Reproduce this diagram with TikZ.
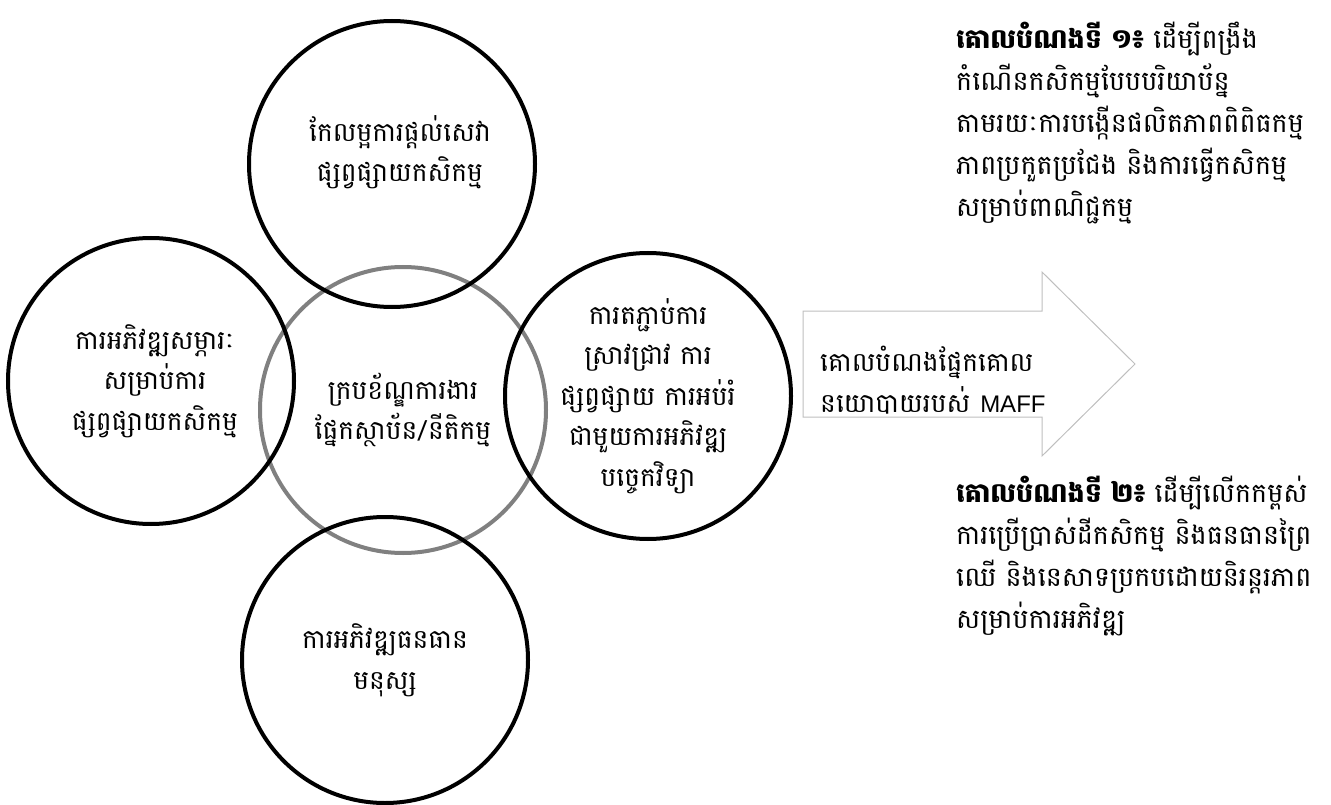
\documentclass[tikz,border=0pt]{standalone}
\usepackage{fontspec}
\newfontfamily\kh[Script=Khmer]{Battambang}
\newfontfamily\latf{Liberation Sans}
\definecolor{ringgray}{HTML}{808080}
\definecolor{arrowgray}{HTML}{BFBFBF}
\tikzset{
  ring/.style={circle, draw=black, line width=4pt, minimum size=286pt, inner sep=0pt, outer sep=0pt},
  grayring/.style={ring, draw=ringgray},
  khtext/.style={font=\kh\fontsize{26.5}{40.5}\selectfont, align=center, inner sep=0pt},
  sidetext/.style={font=\kh\fontsize{27}{42}\selectfont, align=left, anchor=north west, inner sep=0pt},
  arrowshape/.style={draw=arrowgray, line width=1pt, line join=miter}
}
\begin{document}
\begin{tikzpicture}[x=1pt,y=-1pt]
\useasboundingbox (0,0) rectangle (1331,805);
% circles
\node[grayring] (mid) at (403,410) {};
\node[ring] (top) at (392,164) {};
\node[ring] (left) at (151,381) {};
\node[ring] (right) at (648,396) {};
\node[ring] (bottom) at (385,660) {};
% circle texts
\node[khtext] (toptext) at (400,152) {កែលម្អការផ្តល់សេវា\\ផ្សព្វផ្សាយកសិកម្ម};
\node[khtext] (lefttext) at (155,381) {ការអភិវឌ្ឍសម្ភារៈ\\សម្រាប់ការ\\ផ្សព្វផ្សាយកសិកម្ម};
\node[khtext] (midtext) at (403,410) {ក្របខ័ណ្ឌការងារ\\ផ្នែកស្ថាប័ន/នីតិកម្ម};
\node[khtext] (righttext) at (648,396) {ការតភ្ជាប់ការ\\ស្រាវជ្រាវ ការ\\ផ្សព្វផ្សាយ ការអប់រំ\\ជាមួយការអភិវឌ្ឍ\\បច្ចេកវិទ្យា};
\node[khtext] (bottomtext) at (385,660) {ការអភិវឌ្ឍធនធាន\\មនុស្ស};
% arrow
\coordinate (a1) at (803,311);
\coordinate (a2) at (1042,311);
\coordinate (a3) at (1042,272);
\coordinate (a4) at (1135,364);
\coordinate (a5) at (1042,456);
\coordinate (a6) at (1042,417);
\coordinate (a7) at (803,417);
\draw[arrowshape] (a1) -- (a2) -- (a3) -- (a4) -- (a5) -- (a6) -- (a7) -- cycle;
\node[khtext, align=left, anchor=west] (arrowtext) at (820,380) {គោលបំណងផ្នែកគោល\\នយោបាយរបស់\hspace{10pt}{\latf\fontsize{24}{40}\selectfont MAFF}};
% goals
\node[sidetext] (goal1) at (956,22) {{\bfseries គោលបំណងទី ១៖} ដើម្បីពង្រឹង\\កំណើនកសិកម្មបែបបរិយាប័ន្ន\\តាមរយៈការបង្កើនផលិតភាពពិពិធកម្ម\\ភាពប្រកួតប្រជែង និងការធ្វើកសិកម្ម\\សម្រាប់ពាណិជ្ជកម្ម};
\node[sidetext] (goal2) at (956,476) {{\bfseries គោលបំណងទី ២៖} ដើម្បីលើកកម្ពស់\\ការប្រើប្រាស់ដីកសិកម្ម និងធនធានព្រៃ\\ឈើ និងនេសាទប្រកបដោយនិរន្តរភាព\\សម្រាប់ការអភិវឌ្ឍ};
\end{tikzpicture}
\end{document}
